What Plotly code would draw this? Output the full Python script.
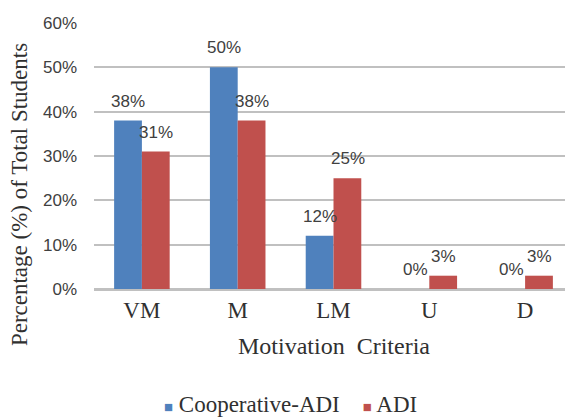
import plotly.graph_objects as go

categories = ["VM", "M", "LM", "U", "D"]
coop_adi = [38, 50, 12, 0, 0]
adi = [31, 38, 25, 3, 3]
series_names = ["Cooperative-ADI", "ADI"]
y_ticks = [0, 10, 20, 30, 40, 50, 60]
y_tick_labels = ["0%", "10%", "20%", "30%", "40%", "50%", "60%"]

serif = "Liberation Serif"
sans = "Liberation Sans"
text_col = "#303030"
blue = "#4F81BD"
red = "#C0504D"

fig = go.Figure()
fig.add_trace(go.Bar(x=categories, y=coop_adi, name=series_names[0],
                     marker=dict(color=blue, line=dict(width=0))))
fig.add_trace(go.Bar(x=categories, y=adi, name=series_names[1],
                     marker=dict(color=red, line=dict(width=0))))

annotations = []
for series, shift in ((coop_adi, -14), (adi, 14)):
    for c, v in zip(categories, series):
        annotations.append(dict(x=c, y=v, xref="x", yref="y", text=f"{v}%",
                                showarrow=False, xanchor="center", yanchor="bottom",
                                xshift=shift, yshift=8,
                                font=dict(family=sans, size=17, color="#404040")))

annotations.append(dict(x=0.502, y=-0.214, xref="paper", yref="paper",
                        text="Motivation  Criteria", showarrow=False,
                        xanchor="center", yanchor="middle",
                        font=dict(family=serif, size=24, color=text_col)))
annotations.append(dict(x=(19 - 94) / 479, y=0.353, xref="paper", yref="paper",
                        text="Percentage (%) of Total Students", showarrow=False,
                        textangle=-90, xanchor="center", yanchor="middle",
                        font=dict(family=serif, size=23, color=text_col)))

# legend drawn as a serif text annotation (colored squares + series names)
legend_text = (f"<span style='color:{blue}; font-size:15px'>■</span> {series_names[0]}"
               f"&nbsp;&nbsp;&nbsp;&nbsp;<span style='color:{red}; font-size:15px'>■</span> {series_names[1]}")
annotations.append(dict(x=0.411, y=-0.436, xref="paper", yref="paper",
                        text=legend_text, showarrow=False,
                        xanchor="center", yanchor="middle",
                        font=dict(family=serif, size=23, color=text_col)))

# page body has an 8px margin, so the figure is drawn 8px smaller and offset
fig.update_layout(
    width=565, height=410,
    font=dict(family=serif, color=text_col),
    margin=dict(l=86, r=0, t=15, b=129, autoexpand=False),
    paper_bgcolor="white", plot_bgcolor="white",
    barmode="group", bargap=0.42, bargroupgap=0,
    showlegend=False,
    annotations=annotations,
    xaxis=dict(
        tickfont=dict(family=serif, size=23, color=text_col),
        showline=True, linecolor="#c0c0c0", linewidth=1.5, ticks="",
        automargin=False,
    ),
    yaxis=dict(
        range=[0, 60], tickvals=y_ticks, ticktext=y_tick_labels,
        tickfont=dict(family=sans, size=17, color="#404040"),
        showgrid=True, gridcolor="#c0c0c0", gridwidth=1.5,
        zeroline=True, zerolinecolor="#c0c0c0", zerolinewidth=1.5,
        ticklabelstandoff=16, automargin=False,
    ),
)

fig.write_html("out.html")
